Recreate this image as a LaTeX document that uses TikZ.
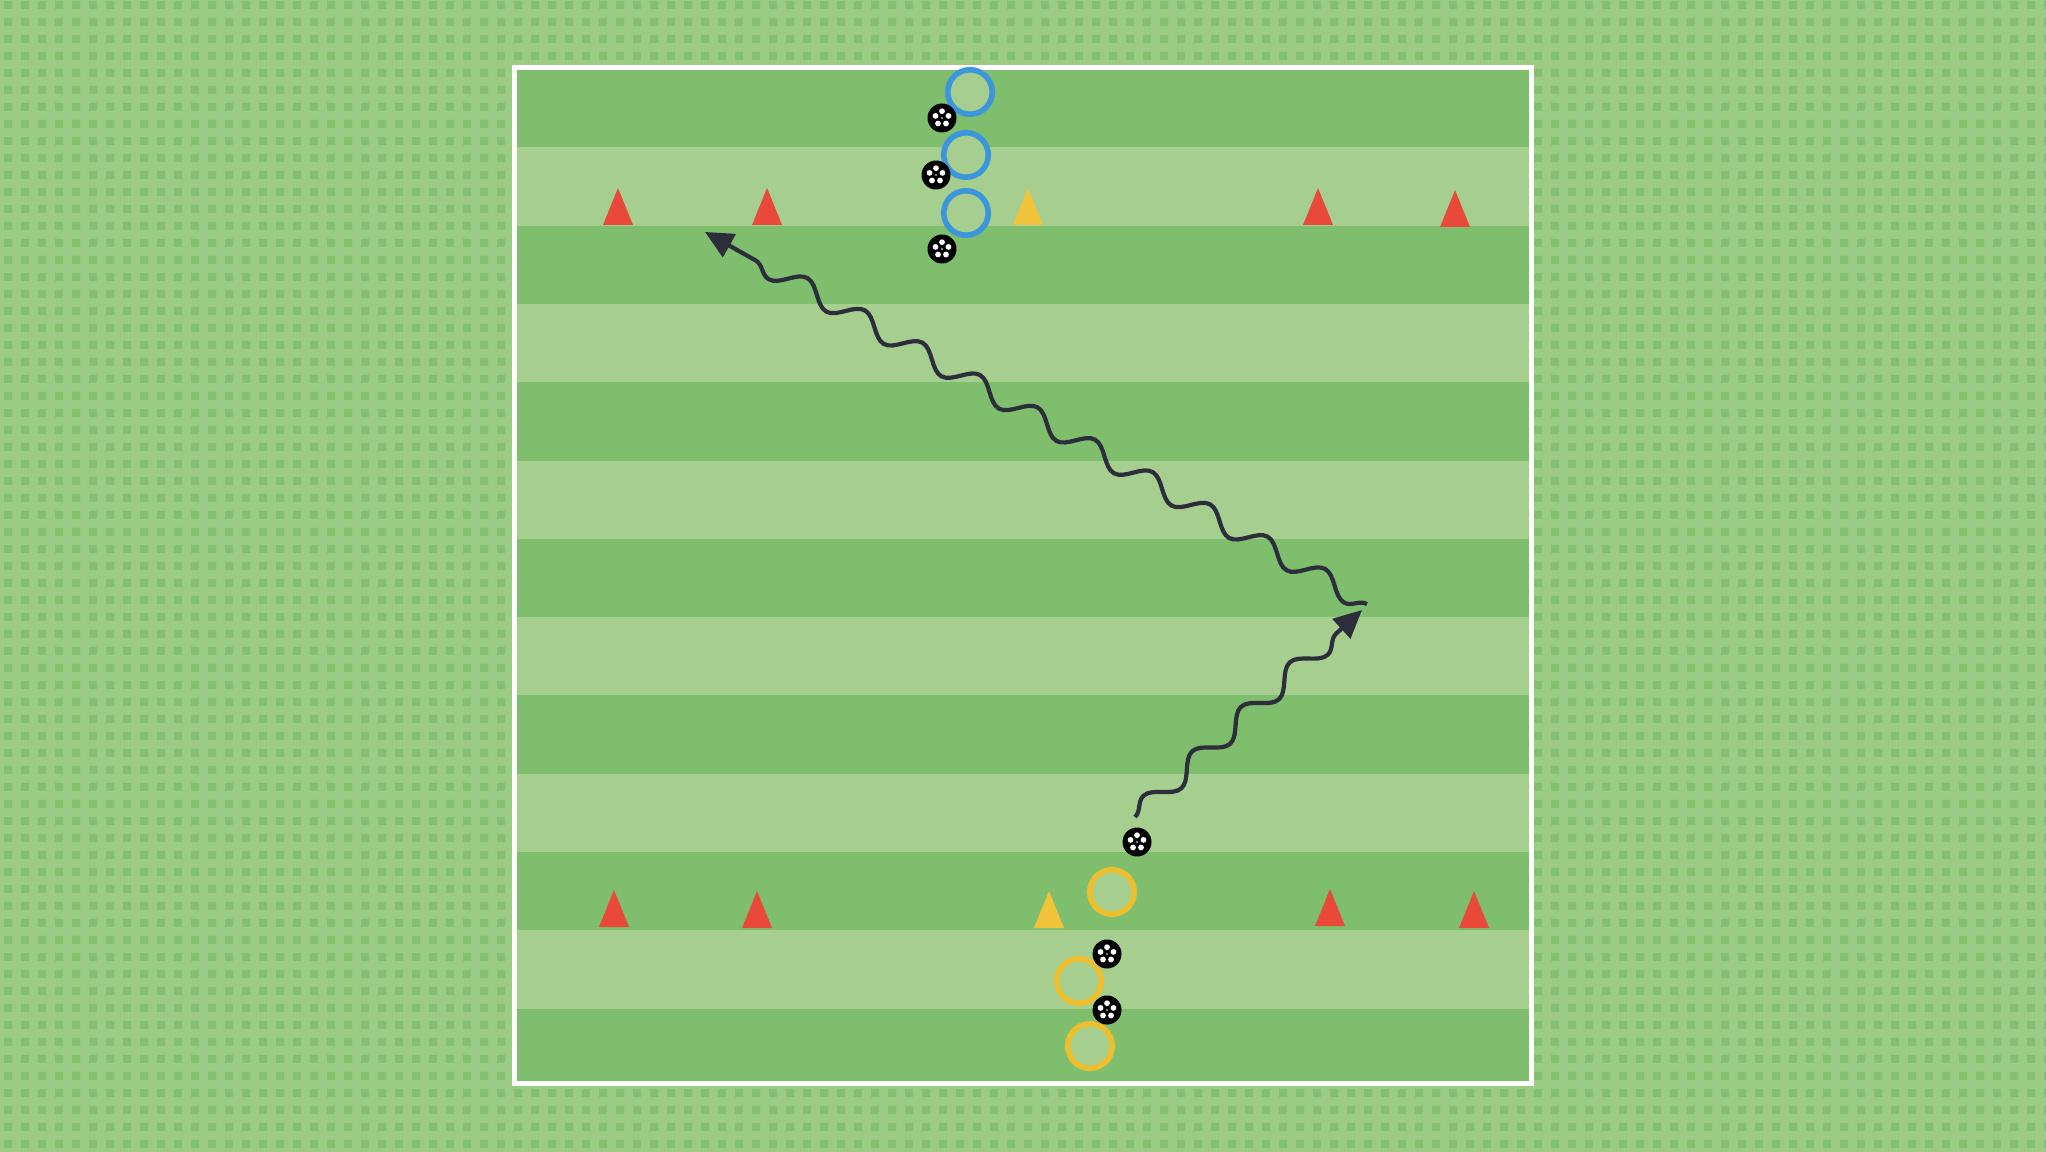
\documentclass[tikz,border=0pt]{standalone}
\usetikzlibrary{decorations.pathmorphing,arrows.meta,patterns}
\definecolor{bgbase}{HTML}{9BCB85}
\definecolor{bgsq}{HTML}{86BF70}
\definecolor{darkstripe}{HTML}{7FBE6D}
\definecolor{lightstripe}{HTML}{A6CF8F}
\definecolor{conered}{HTML}{E8493A}
\definecolor{coneyellow}{HTML}{F1C33A}
\definecolor{ringblue}{HTML}{3C96DC}
\definecolor{ringyellow}{HTML}{EDBE2E}
\definecolor{arrowdark}{HTML}{2C2E3B}
\pgfdeclarepatternformonly{bgsquares}{\pgfqpoint{0pt}{0pt}}{\pgfqpoint{4.72pt}{4.72pt}}{\pgfqpoint{4.72pt}{4.72pt}}{\pgfpathrectangle{\pgfqpoint{1.2pt}{1.2pt}}{\pgfqpoint{2.3pt}{2.3pt}}\pgfusepath{fill}}
\tikzset{
  cone/.pic={\fill[#1] (-15,0) -- (0,-37) -- (15,0) -- cycle;},
  ball/.style={circle, fill=black, minimum size=2.9mm, inner sep=0pt,
    path picture={\foreach \a in {90,162,234,306,18}{\fill[white] (path picture bounding box.center) ++(\a:0.68mm) circle (0.29mm);}
      \fill[white] (path picture bounding box.center) circle (0.08mm);}},
  ring/.style={circle, draw=#1, line width=0.56mm, fill=lightstripe, minimum size=4.45mm, inner sep=0pt},
  dribble/.style={draw=arrowdark, line width=0.42mm, decorate,
    decoration={snake, amplitude=1mm, segment length=6.6mm, post length=2.6mm},
    -{Triangle[length=2.8mm,width=2.6mm]}}
}
\begin{document}
\begin{tikzpicture}[x=0.1mm,y=-0.1mm]
\useasboundingbox (0,0) rectangle (2046,1152);
% background
\fill[bgbase] (0,0) rectangle (2046,1152);
\fill[pattern=bgsquares, pattern color=bgsq] (0,0) rectangle (2046,1152);
% field stripes
\fill[darkstripe] (514,68) rectangle (1531,1083);
\foreach \i in {1,3,5,7,9,11}{
  \fill[lightstripe] (514,{69.1+\i*78.3}) rectangle (1531,{69.1+(\i+1)*78.3});
}
\draw[white, line width=0.5mm] (514,68) rectangle (1531,1083);
% cones top
\pic at (618,225) {cone=conered};
\pic at (767,225) {cone=conered};
\pic at (1028,225) {cone=coneyellow};
\pic at (1318,225) {cone=conered};
\pic at (1455,227) {cone=conered};
% cones bottom
\pic at (614,927) {cone=conered};
\pic at (757,928) {cone=conered};
\pic at (1049,928) {cone=coneyellow};
\pic at (1330,926) {cone=conered};
\pic at (1474,928) {cone=conered};
% blue rings and balls
\node[ring=ringblue] (br1) at (970,92) {};
\node[ring=ringblue] (br2) at (966,155) {};
\node[ring=ringblue] (br3) at (966,213) {};
\node[ball] (bb1) at (942,118) {};
\node[ball] (bb2) at (936,175) {};
\node[ball] (bb3) at (942,249) {};
% yellow rings and balls
\node[ring=ringyellow] (yr1) at (1112,892) {};
\node[ring=ringyellow] (yr2) at (1079,981) {};
\node[ring=ringyellow] (yr3) at (1090,1046) {};
\node[ball] (yb0) at (1137,842) {};
\node[ball] (yb1) at (1107,954) {};
\node[ball] (yb2) at (1107,1010) {};
% dribble arrows
\coordinate (s1) at (1135,817);
\coordinate (t1) at (1362,610);
\coordinate (s2) at (1367,604);
\coordinate (t2) at (705,232);
\draw[dribble] (s1) -- (t1);
\draw[dribble] (s2) -- (t2);
\end{tikzpicture}
\end{document}
